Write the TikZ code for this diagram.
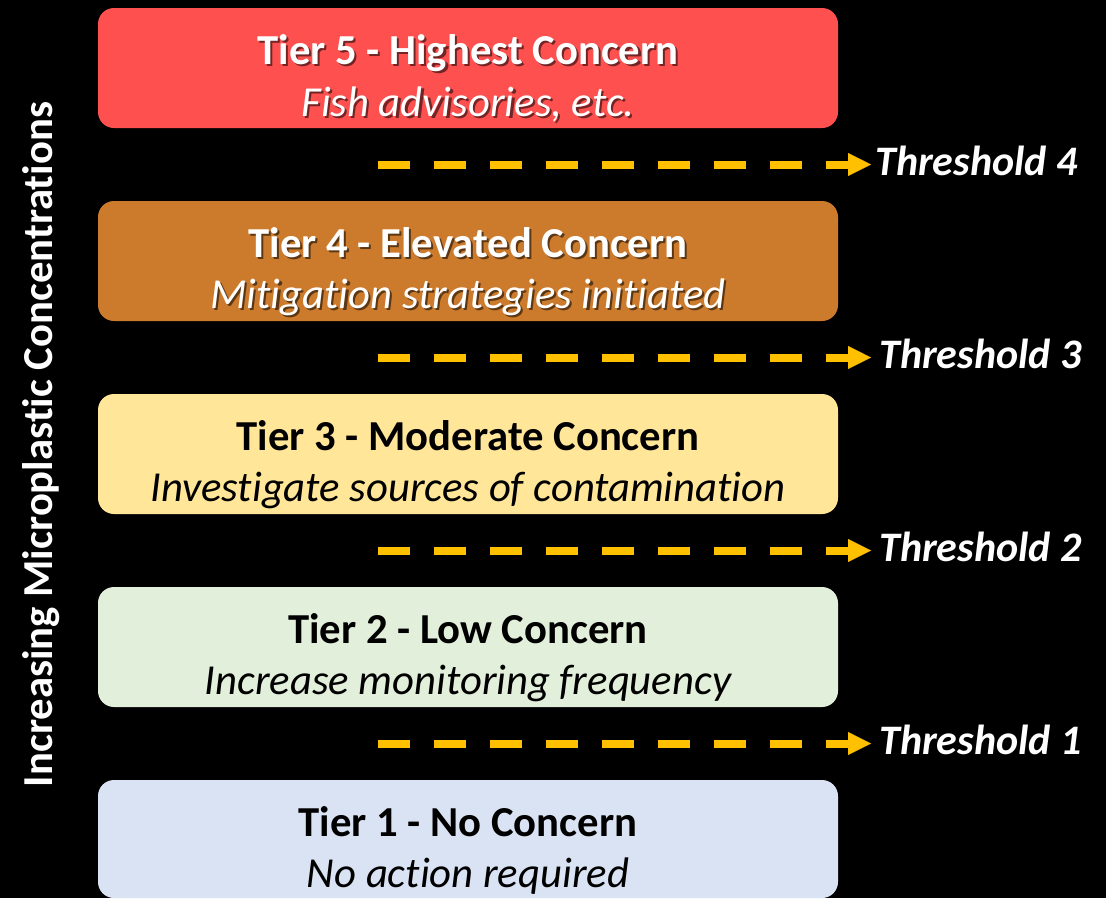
\documentclass[tikz,border=0pt]{standalone}
\usepackage{fontspec}
\setmainfont{Carlito}[Ligatures=CommonOff]
\usetikzlibrary{arrows.meta}
\definecolor{tfive}{HTML}{FF5050}
\definecolor{tfour}{HTML}{CC7A2C}
\definecolor{tthree}{HTML}{FFE699}
\definecolor{ttwo}{HTML}{E2EFDA}
\definecolor{tone}{HTML}{DAE3F3}
\definecolor{gold}{HTML}{FFC000}
\newcommand\shadtxt[2]{\makebox[0pt][l]{\kern2.2pt\raisebox{-2.2pt}{\textcolor{#1}{#2}}}#2}
\begin{document}
\begin{tikzpicture}[x=1pt,y=-1pt,
  tierbox/.style={rounded corners=16pt, draw=none, minimum width=740pt, minimum height=120pt, inner sep=0pt},
  ttl/.style={font=\fontsize{42.7}{50}\selectfont\bfseries, anchor=base, inner sep=0pt},
  subt/.style={font=\fontsize{42.7}{50}\selectfont\itshape, anchor=base, inner sep=0pt},
  thr/.style={draw=gold, line width=8pt, dash pattern=on 32pt off 24pt, -{Triangle[length=23pt,width=23pt,line width=0.1pt]}},
  thl/.style={font=\fontsize{42}{50}\selectfont\bfseries\itshape, text=white, anchor=base west, inner sep=0pt}]
\fill[black] (0,0) rectangle (1106,898);
\useasboundingbox (0,0) rectangle (1106,898);

% vertical label
\node[font=\fontsize{42.7}{50}\selectfont\bfseries, text=white, rotate=90, anchor=base, inner sep=0pt] (vl) at (52,444.5) {Increasing Microplastic Concentrations};

% Tier 5
\node[tierbox, fill=tfive] (t5) at (468,68) {};
\node[ttl, text=white] (t5a) at (468,64.5) {\shadtxt{tfive!45!black}{Tier 5 - Highest Concern}};
\node[subt, text=white] (t5b) at (468,116.5) {\shadtxt{tfive!45!black}{Fish advisories, etc.}};

% Tier 4
\node[tierbox, fill=tfour] (t4) at (468,261) {};
\node[ttl, text=white] (t4a) at (468,257.5) {\shadtxt{tfour!45!black}{Tier 4 - Elevated Concern}};
\node[subt, text=white] (t4b) at (468,308.5) {\shadtxt{tfour!45!black}{Mitigation strategies initiated}};

% Tier 3
\node[tierbox, fill=tthree] (t3) at (468,454) {};
\node[ttl, text=black] (t3a) at (468,450.5) {Tier 3 - Moderate Concern};
\node[subt, text=black] (t3b) at (468,501.5) {Investigate sources of contamination};

% Tier 2
\node[tierbox, fill=ttwo] (t2) at (468,647) {};
\node[ttl, text=black] (t2a) at (468,643.5) {Tier 2 - Low Concern};
\node[subt, text=black] (t2b) at (468,694.5) {Increase monitoring frequency};

% Tier 1
\node[tierbox, fill=tone, minimum height=118pt] (t1) at (468,839) {};
\node[ttl, text=black] (t1a) at (468,836.5) {Tier 1 - No Concern};
\node[subt, text=black] (t1b) at (468,887.5) {No action required};

% thresholds
\coordinate (a4s) at (378,164.5); \coordinate (a4e) at (871,164.5);
\coordinate (a3s) at (378,357.5); \coordinate (a3e) at (871,357.5);
\coordinate (a2s) at (378,550.5); \coordinate (a2e) at (871,550.5);
\coordinate (a1s) at (378,743.5); \coordinate (a1e) at (871,743.5);
\draw[thr] (a4s) -- (a4e);
\draw[thr] (a3s) -- (a3e);
\draw[thr] (a2s) -- (a2e);
\draw[thr] (a1s) -- (a1e);
\node[thl] (l4) at (875,175) {Threshold 4};
\node[thl] (l3) at (879,368) {Threshold 3};
\node[thl] (l2) at (879,561) {Threshold 2};
\node[thl] (l1) at (879,754) {Threshold 1};
\end{tikzpicture}
\end{document}
